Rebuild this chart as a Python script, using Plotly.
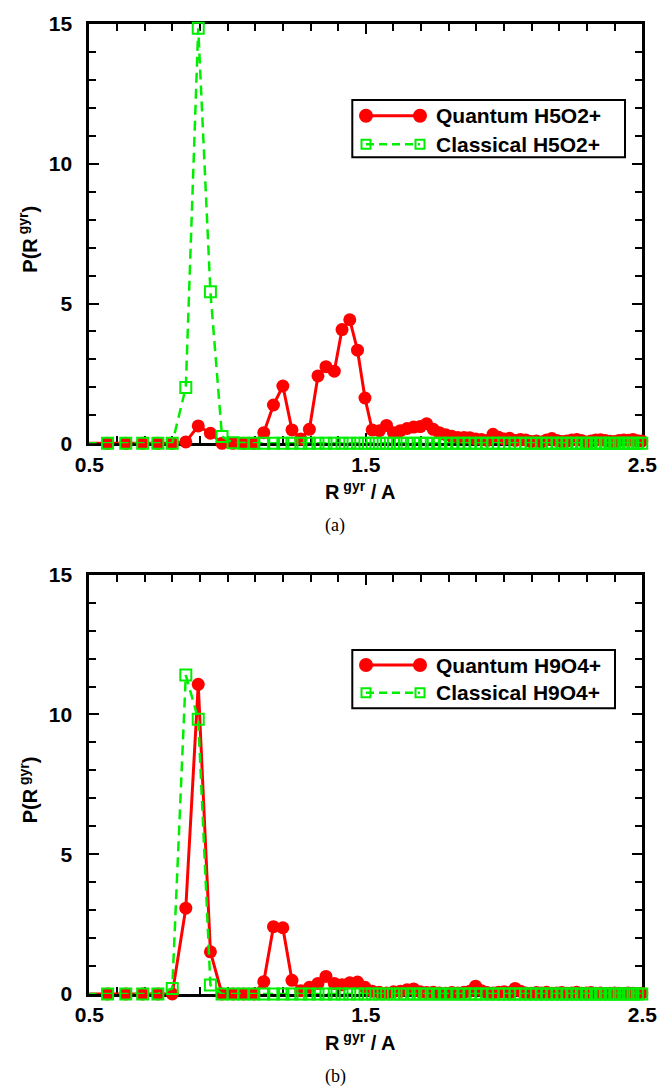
import plotly.graph_objects as go

# Radius of gyration bin centres (Angstrom)
r_gyr = [
    0.490, 0.566, 0.632, 0.693, 0.748, 0.800, 0.849, 0.894, 0.938, 0.980,
    1.020, 1.058, 1.095, 1.131, 1.166, 1.200, 1.233, 1.265, 1.296, 1.327,
    1.356, 1.386, 1.414, 1.442, 1.470, 1.497, 1.523, 1.549, 1.575, 1.600,
    1.625, 1.649, 1.673, 1.697, 1.720, 1.744, 1.766, 1.789, 1.811, 1.833,
    1.855, 1.876, 1.897, 1.918, 1.939, 1.960, 1.980, 2.000, 2.020, 2.040,
    2.059, 2.078, 2.098, 2.117, 2.135, 2.154, 2.173, 2.191, 2.209, 2.227,
    2.245, 2.263, 2.280, 2.298, 2.315, 2.332, 2.349, 2.366, 2.383, 2.400,
    2.416, 2.433, 2.449, 2.466, 2.482, 2.498,
]

# (a) H5O2+
quantum_h5o2 = [
    0, 0, 0, 0, 0, 0, 0.05, 0.62, 0.36, 0,
    0, 0, 0, 0.38, 1.37, 2.05, 0.48, 0.15, 0.50, 2.41,
    2.74, 2.58, 4.07, 4.42, 3.33, 1.62, 0.48, 0.45, 0.64, 0.38,
    0.45, 0.53, 0.58, 0.60, 0.70, 0.50, 0.38, 0.31, 0.25, 0.21,
    0.21, 0.20, 0.15, 0.14, 0.10, 0.32, 0.22, 0.15, 0.18, 0.10,
    0.14, 0.12, 0.06, 0.08, 0.05, 0.12, 0.17, 0.10, 0.06, 0.08,
    0.12, 0.14, 0.10, 0.05, 0.08, 0.12, 0.13, 0.10, 0.07, 0.06,
    0.10, 0.12, 0.11, 0.14, 0.09, 0.08,
]
classical_h5o2 = [
    0, 0, 0, 0, 0, 0, 2.00, 14.85, 5.42, 0.24,
    0.02, 0, 0, 0, 0, 0, 0, 0, 0, 0,
    0, 0, 0, 0, 0, 0, 0, 0, 0, 0,
    0, 0, 0, 0, 0, 0, 0, 0, 0, 0,
    0, 0, 0, 0, 0, 0, 0, 0, 0, 0,
    0, 0, 0, 0, 0, 0, 0, 0, 0, 0,
    0, 0, 0, 0, 0, 0, 0, 0, 0, 0,
    0, 0, 0, 0, 0, 0,
]

# (b) H9O4+
quantum_h9o4 = [
    0, 0, 0, 0, 0, 0, 3.07, 11.08, 1.51, 0,
    0, 0, 0, 0.44, 2.41, 2.37, 0.49, 0.12, 0.24, 0.38,
    0.63, 0.38, 0.33, 0.40, 0.43, 0.24, 0.10, 0.06, 0.04, 0.08,
    0.10, 0.15, 0.18, 0.08, 0.05, 0.06, 0.04, 0.03, 0.05, 0.04,
    0.06, 0.10, 0.28, 0.12, 0.05, 0.04, 0.06, 0.08, 0.05, 0.20,
    0.10, 0.04, 0.03, 0.05, 0.04, 0.06, 0.03, 0.04, 0.05, 0.03,
    0.04, 0.06, 0.03, 0.04, 0.05, 0.03, 0.04, 0.02, 0.03, 0.04,
    0.03, 0.02, 0.04, 0.03, 0.02, 0.03,
]
classical_h9o4 = [
    0, 0, 0, 0, 0, 0.20, 11.41, 9.83, 0.32, 0,
    0, 0, 0, 0, 0, 0, 0, 0, 0, 0,
    0, 0, 0, 0, 0, 0, 0, 0, 0, 0,
    0, 0, 0, 0, 0, 0, 0, 0, 0, 0,
    0, 0, 0, 0, 0, 0, 0, 0, 0, 0,
    0, 0, 0, 0, 0, 0, 0, 0, 0, 0,
    0, 0, 0, 0, 0, 0, 0, 0, 0, 0,
    0, 0, 0, 0, 0, 0,
]

x_ticks = [0.5, 1.5, 2.5]
y_ticks = [0, 5, 10, 15]

panels = [
    ("Quantum H5O2+", "Classical H5O2+", quantum_h5o2, classical_h5o2, "(a)"),
    ("Quantum H9O4+", "Classical H9O4+", quantum_h9o4, classical_h9o4, "(b)"),
]

W, H = 658, 1089
RED = "#ff0000"
GREEN = "#00ee00"
SANS = "Liberation Sans, Arial, Helvetica, sans-serif"
SERIF = "Liberation Serif, Times New Roman, serif"


def px(xp):
    return xp / W


def py(yp):
    return 1 - yp / H


# plot frames in pixels: (left, right, top, bottom)
frames = [(89.3, 642.3, 24.0, 443.3), (89.3, 642.3, 574.7, 994.0)]
# legend boxes in pixels: (left, right, top, bottom, row1 y, row2 y)
legend_boxes = [(352.3, 625.0, 100.0, 157.3, 115.7, 144.3),
                (352.3, 615.0, 650.0, 708.3, 665.0, 692.7)]

# first bin lies just left of the axis range: keep its line, hide its marker
circle_sizes = [0] + [13] * (len(r_gyr) - 1)
square_sizes = [0] + [11] * (len(r_gyr) - 1)

fig = go.Figure()
shapes = []
annotations = []

for k, (qname, cname, qvals, cvals, tag) in enumerate(panels):
    xa = "x" if k == 0 else "x2"
    ya = "y" if k == 0 else "y2"
    fig.add_trace(go.Scatter(
        x=r_gyr, y=qvals, name=qname, mode="lines+markers",
        xaxis=xa, yaxis=ya, cliponaxis=False, showlegend=False,
        line=dict(color=RED, width=3),
        marker=dict(symbol="circle", size=circle_sizes, color=RED,
                    opacity=1, line=dict(width=0)),
    ))
    fig.add_trace(go.Scatter(
        x=r_gyr, y=cvals, name=cname, mode="lines+markers",
        xaxis=xa, yaxis=ya, cliponaxis=False, showlegend=False,
        line=dict(color=GREEN, width=2.5, dash="10px,6px"),
        marker=dict(symbol="square-open", size=square_sizes, color=GREEN,
                    opacity=1, line=dict(width=2, color=GREEN)),
    ))

    left, right, top, bottom = frames[k]
    axis_common = dict(
        showline=True, linecolor="black", linewidth=3, mirror="ticks",
        ticks="inside", ticklen=10, tickwidth=2, tickcolor="black",
        showgrid=False, zeroline=False, layer="below traces", automargin=False,
        tickfont=dict(family=SANS, size=21, color="black", weight="bold"),
    )
    xaxis = dict(
        axis_common, domain=[px(left), px(right)], range=[0.5, 2.5],
        tickmode="array", tickvals=x_ticks, ticktext=[str(v) for v in x_ticks],
        minor=dict(ticks="inside", dtick=0.1, tick0=0.5, ticklen=7,
                   tickwidth=2, tickcolor="black", showgrid=False),
        anchor=ya, ticklabelstandoff=0,
    )
    yaxis = dict(
        axis_common, domain=[py(bottom), py(top)], range=[0, 15],
        tickmode="array", tickvals=y_ticks, ticktext=[str(v) for v in y_ticks],
        minor=dict(ticks="inside", dtick=1, tick0=0, ticklen=7,
                   tickwidth=2, tickcolor="black", showgrid=False),
        anchor=xa, ticklabelstandoff=10,
    )
    if k == 0:
        fig.update_layout(xaxis=xaxis, yaxis=yaxis)
    else:
        fig.update_layout(xaxis2=xaxis, yaxis2=yaxis)

    # axis titles and panel caption
    annotations.append(dict(
        text="R<sup> gyr</sup> / A", x=px((left + right) / 2 - 5), y=py(bottom + 47),
        xref="paper", yref="paper", showarrow=False, xanchor="center", yanchor="middle",
        font=dict(family=SANS, size=20, color="black", weight="bold"),
    ))
    annotations.append(dict(
        text="P(R<sup> gyr</sup>)", x=px(28), y=py((top + bottom) / 2 + 6),
        xref="paper", yref="paper", showarrow=False, textangle=-90,
        xanchor="center", yanchor="middle",
        font=dict(family=SANS, size=20, color="black", weight="bold"),
    ))
    annotations.append(dict(
        text=tag, x=px(335), y=py(bottom + 82), xref="paper", yref="paper",
        showarrow=False, xanchor="center", yanchor="middle",
        font=dict(family=SERIF, size=18, color="black"),
    ))

    # legend: framed box with a two-marker sample for each series
    lx0, lx1, ly0, ly1, row1, row2 = legend_boxes[k]
    s0, s1, tx = 366.0, 420.0, 434.0
    shapes.append(dict(type="rect", xref="paper", yref="paper",
                       x0=px(lx0), x1=px(lx1), y0=py(ly1), y1=py(ly0),
                       line=dict(color="black", width=2), fillcolor="white", layer="above"))
    shapes.append(dict(type="line", xref="paper", yref="paper",
                       x0=px(s0), x1=px(s1), y0=py(row1), y1=py(row1),
                       line=dict(color=RED, width=3), layer="above"))
    shapes.append(dict(type="line", xref="paper", yref="paper",
                       x0=px(s0), x1=px(s1), y0=py(row2), y1=py(row2),
                       line=dict(color=GREEN, width=2.5, dash="8px,5px"), layer="above"))
    for sx in (s0, s1):
        shapes.append(dict(type="circle", xref="paper", yref="paper",
                           xsizemode="pixel", ysizemode="pixel",
                           xanchor=px(sx), yanchor=py(row1),
                           x0=-7, x1=7, y0=-7, y1=7,
                           fillcolor=RED, line=dict(width=0), layer="above"))
        shapes.append(dict(type="rect", xref="paper", yref="paper",
                           xsizemode="pixel", ysizemode="pixel",
                           xanchor=px(sx), yanchor=py(row2),
                           x0=-4.5, x1=4.5, y0=-4.5, y1=4.5,
                           fillcolor="rgba(0,0,0,0)", line=dict(color=GREEN, width=2),
                           layer="above"))
    for text, ry in ((qname, row1), (cname, row2)):
        annotations.append(dict(
            text=text, x=px(tx), y=py(ry), xref="paper", yref="paper",
            showarrow=False, xanchor="left", yanchor="middle",
            font=dict(family=SANS, size=21, color="black", weight="bold"),
        ))

fig.update_layout(
    template="none",
    width=W, height=H,
    margin=dict(l=0, r=0, t=0, b=0, pad=0),
    paper_bgcolor="white", plot_bgcolor="white",
    showlegend=False,
    shapes=shapes, annotations=annotations,
)

fig.write_html("out.html")
